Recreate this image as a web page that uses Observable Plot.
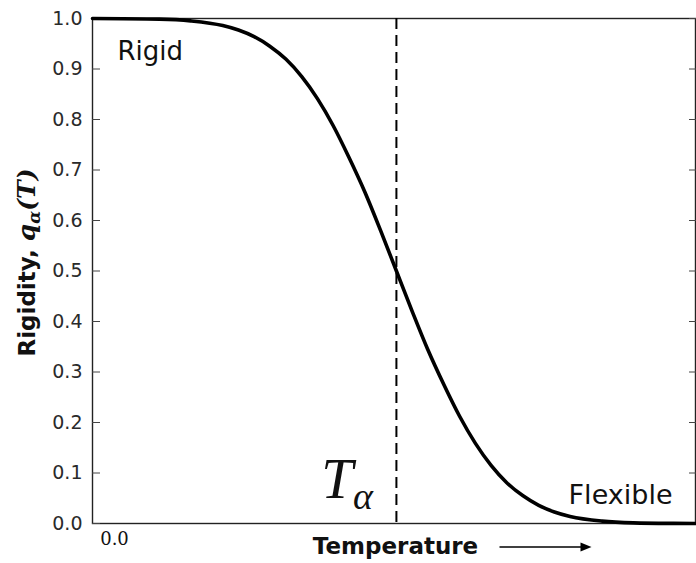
<!DOCTYPE html>
<html>
<head>
<meta charset="utf-8">
<script src="https://cdn.jsdelivr.net/npm/d3@7"></script>
<script src="https://cdn.jsdelivr.net/npm/@observablehq/plot@0.6"></script>
<style>
  html, body { margin: 0; padding: 0; background: #fff; }
  svg { display: block; }
</style>
</head>
<body>
<div id="chart"></div>
<script>
// Temperature (relative units, 0..1 across the frame) and rigidity q_alpha(T)
const temperature = [0, 0.111, 0.163, 0.216, 0.242, 0.268, 0.294, 0.321, 0.347, 0.373, 0.399, 0.425, 0.452, 0.478, 0.504,
                     0.530, 0.556, 0.583, 0.609, 0.635, 0.661, 0.687, 0.714, 0.740, 0.766, 0.792, 0.845, 0.897, 0.963, 1.0];
const rigidity    = [1.000, 0.9987, 0.9953, 0.9861, 0.9772, 0.9641, 0.9452, 0.9192, 0.8849, 0.8413, 0.7881, 0.7257, 0.6554, 0.5793, 0.500,
                     0.4207, 0.3446, 0.2743, 0.2119, 0.1587, 0.1151, 0.0808, 0.0548, 0.0359, 0.0228, 0.0139, 0.0047, 0.0013, 0.0002, 0.000];
const tAlpha = [0.504];
const yTicks = [0, 0.1, 0.2, 0.3, 0.4, 0.5, 0.6, 0.7, 0.8, 0.9, 1.0];
const xTicks = [0];
const regionLabels = ["Rigid", "Flexible"];
const xLabel = "Temperature";
const yLabelParts = ["Rigidity, ", "q", "α", "(T)"];
const tAlphaParts = ["T", "α"];

const curve = temperature.map((t, i) => ({t, q: rigidity[i]}));
const fmt = d3.format(".1f");

function yLabelMark(index, scales, values, dims) {
  const cy = (dims.marginTop + dims.height - dims.marginBottom) / 2 - 8;
  const g = d3.create("svg:g");
  const t = g.append("text")
    .attr("transform", `translate(35,${cy}) rotate(-90)`)
    .attr("text-anchor", "middle")
    .attr("font-family", "DejaVu Sans")
    .attr("font-weight", "bold")
    .attr("font-size", 23)
    .attr("fill", "#111");
  t.append("tspan").text(yLabelParts[0]);
  t.append("tspan").attr("font-family", "DejaVu Serif").attr("font-style", "italic").attr("font-size", 25).text(yLabelParts[1]);
  t.append("tspan").attr("font-family", "DejaVu Serif").attr("font-style", "italic").attr("font-size", 17).attr("dy", 5).text(yLabelParts[2]);
  t.append("tspan").attr("font-family", "DejaVu Serif").attr("font-style", "italic").attr("font-size", 25).attr("dy", -5).text(yLabelParts[3]);
  return g.node();
}

function tAlphaMark(index, scales, values, dims) {
  const x = scales.x(tAlpha[0]) - 23;
  const y = dims.height - dims.marginBottom - 25;
  const g = d3.create("svg:g");
  const t = g.append("text")
    .attr("x", x).attr("y", y)
    .attr("text-anchor", "end")
    .attr("font-family", "Liberation Serif")
    .attr("font-style", "italic")
    .attr("fill", "#111");
  t.append("tspan").attr("font-size", 57).text(tAlphaParts[0]);
  t.append("tspan").attr("font-size", 38).attr("dy", 11).text(tAlphaParts[1]);
  return g.node();
}

function arrowMark(index, scales, values, dims) {
  const cx = (dims.marginLeft + dims.width - dims.marginRight) / 2;
  const y = dims.height - dims.marginBottom + 24;
  const x1 = cx + 106, x2 = cx + 198;
  const g = d3.create("svg:g");
  g.append("line").attr("x1", x1).attr("x2", x2 - 8).attr("y1", y).attr("y2", y)
    .attr("stroke", "#000").attr("stroke-width", 1.6);
  g.append("path").attr("d", `M${x2},${y}L${x2 - 11},${y - 4.5}L${x2 - 11},${y + 4.5}Z`).attr("fill", "#000");
  return g.node();
}

const chart = Plot.plot({
  width: 696,
  height: 563,
  marginLeft: 92,
  marginRight: 1,
  marginTop: 18,
  marginBottom: 40,
  style: {background: "#fff", color: "#2a2a2a", fontFamily: "DejaVu Sans"},
  x: {domain: [0, 1], axis: null},
  y: {domain: [0, 1], axis: null},
  marks: [
    Plot.frame({stroke: "#222", strokeWidth: 1.4}),
    Plot.axisY({ticks: yTicks, tickSize: -8, tickFormat: () => "", label: null, stroke: "#444"}),
    Plot.axisY({anchor: "right", ticks: yTicks, tickSize: -7, tickFormat: () => "", label: null, stroke: "#444"}),
    Plot.text(yTicks, {y: d => d, text: d => fmt(d), frameAnchor: "left", dx: -10, textAnchor: "end",
                lineAnchor: "middle", fontSize: 19, fontFamily: "DejaVu Sans", fill: "#2a2a2a"}),
    Plot.text(xTicks, {x: d => d, text: d => fmt(d), frameAnchor: "bottom", dx: 22, dy: 9, lineAnchor: "top",
                fontSize: 18, fontFamily: "DejaVu Serif", fill: "#111"}),
    Plot.ruleX(tAlpha, {stroke: "#000", strokeWidth: 2, strokeDasharray: "11,6"}),
    Plot.line(curve, {x: "t", y: "q", stroke: "#000", strokeWidth: 3.6, curve: "monotone-x"}),
    Plot.text([regionLabels[0]], {frameAnchor: "top-left", text: d => d, dx: 25, dy: 41, lineAnchor: "bottom",
                textAnchor: "start", fontSize: 26, fontFamily: "DejaVu Sans", fill: "#111"}),
    Plot.text([regionLabels[1]], {frameAnchor: "bottom-right", text: d => d, dx: -23, dy: -20, lineAnchor: "bottom",
                textAnchor: "end", fontSize: 27, fontFamily: "DejaVu Sans", fill: "#111"}),
    Plot.text([xLabel], {frameAnchor: "bottom", text: d => d, dx: 1.5, dy: 30, lineAnchor: "bottom",
                textAnchor: "middle", fontSize: 23, fontWeight: "bold", fontFamily: "DejaVu Sans", fill: "#111"}),
    arrowMark,
    yLabelMark,
    tAlphaMark
  ]
});
document.getElementById("chart").appendChild(chart);
</script>
</body>
</html>
